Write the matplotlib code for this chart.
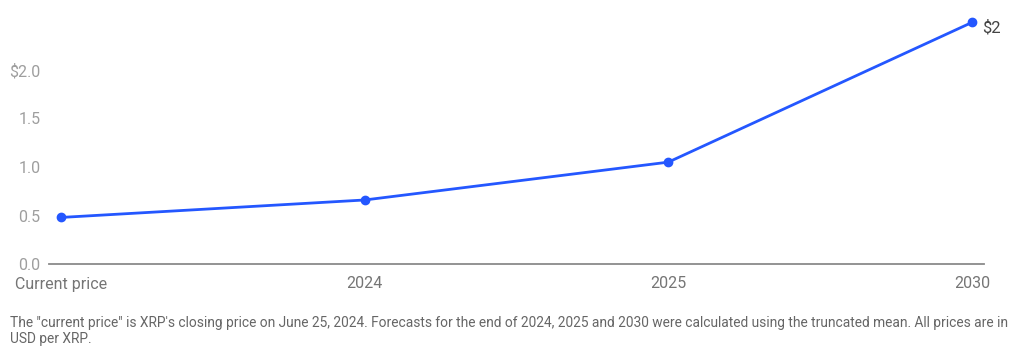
import matplotlib
matplotlib.use("Agg")
import matplotlib.pyplot as plt

categories = ["Current price", "2024", "2025", "2030"]
prices = [0.48, 0.66, 1.05, 2.49]
end_label = "$2"
yticks = [0.0, 0.5, 1.0, 1.5, 2.0]
ytick_labels = ["0.0", "0.5", "1.0", "1.5", "$2.0"]
footnote = ("The \"current price\" is XRP's closing price on June 25, 2024. Forecasts for the end of 2024, 2025 and 2030 "
            "were calculated using the truncated mean. All prices are in\nUSD per XRP.")

plt.rcParams['font.family'] = ['Roboto', 'DejaVu Sans']

W, H = 1024, 351
fig = plt.figure(figsize=(W / 100, H / 100), dpi=100)
left, right = 49 / W, 984 / W
bottom, top = (H - 264) / H, (H - 21.5) / H
ax = fig.add_axes([left, bottom, right - left, top - bottom])

x = list(range(len(categories)))
ax.plot(x, prices, color="#2457ff", lw=2.0, marker="o", ms=6, clip_on=False, zorder=3)
ax.text(x[-1] + 0.035, prices[-1] - 0.05, end_label, color="#444444", fontsize=12, va="center", ha="left")

ax.set_xlim(-0.04, 3.04)
ax.set_ylim(0, 2.5)
ax.set_xticks(x)
ax.set_xticklabels(categories)
ax.set_yticks(yticks)
ax.set_yticklabels(ytick_labels)
ax.tick_params(axis="both", length=0, labelsize=11.5, colors="#9e9e9e")
ax.tick_params(axis="x", pad=9, labelcolor="#757575")
ax.tick_params(axis="y", pad=6)
for s in ["top", "right", "left"]:
    ax.spines[s].set_visible(False)
ax.spines["bottom"].set_color("#8a8a8a")
ax.spines["bottom"].set_linewidth(1.3)

fig.text(10 / W, 1 - 316 / H, footnote, fontsize=9.92, color="#666666", va="top", ha="left", linespacing=1.2)

fig.savefig("out.png", dpi=100, facecolor="white")
